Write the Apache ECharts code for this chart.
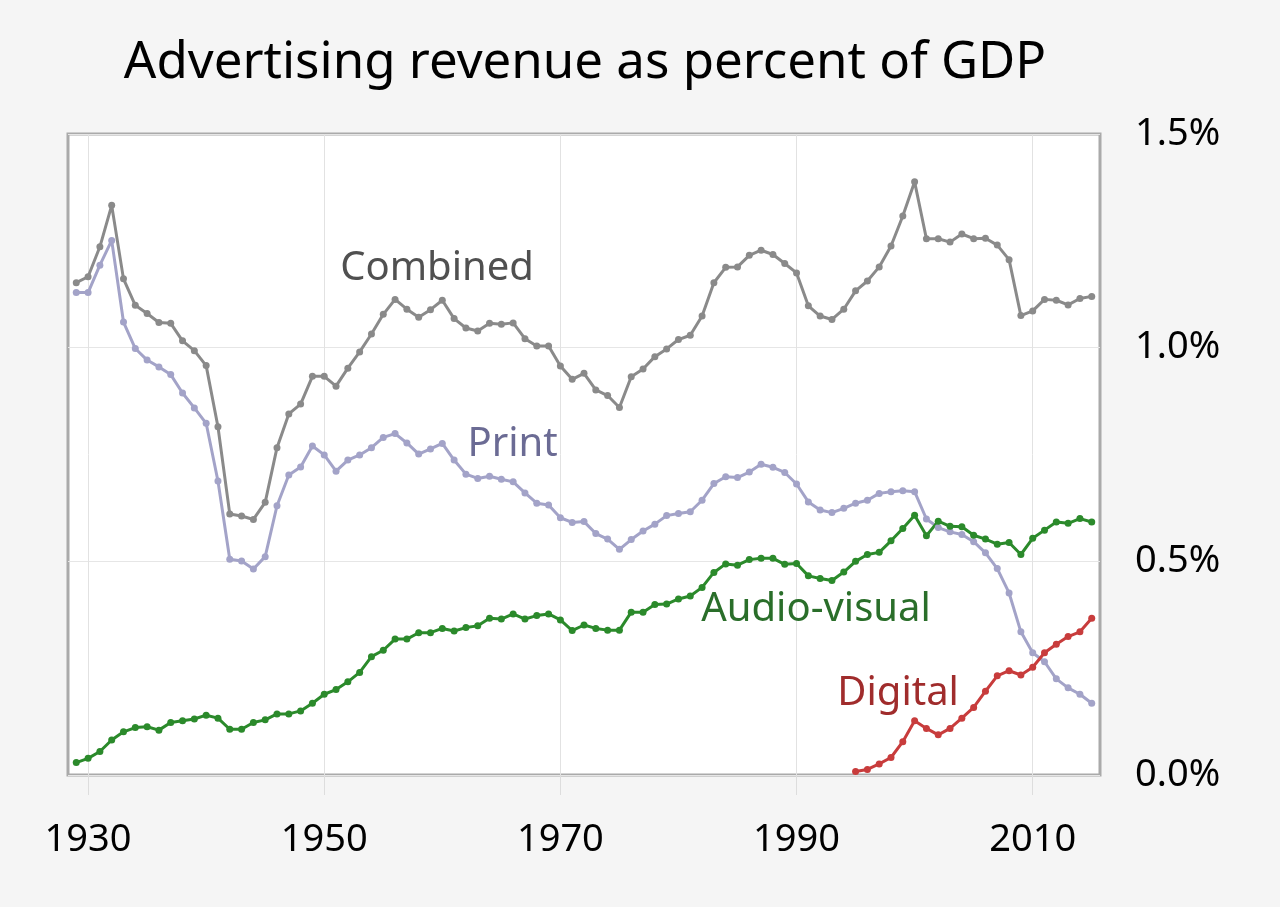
<!DOCTYPE html>
<html lang="en">
<head>
  <meta charset="UTF-8">
  <title>Advertising revenue as percent of GDP</title>
  <script src="https://cdn.jsdelivr.net/npm/echarts@6/dist/echarts.min.js"></script>
  <style>
    html, body {
      margin: 0;
      background-color: #f5f5f5;
    }
    #main {
      width: 1280px;
      height: 907px;
    }
  </style>
</head>
<body>
  <div id="main"></div>

  <script>
    // years 1929 - 2015
    const firstYear = 1929;
    const combined = [
      1.152, 1.166, 1.236, 1.333, 1.161, 1.099, 1.080, 1.059, 1.057, 1.016,
      0.993, 0.958, 0.815, 0.611, 0.606, 0.598, 0.638, 0.766, 0.845, 0.868,
      0.933, 0.933, 0.910, 0.952, 0.990, 1.032, 1.078, 1.113, 1.090, 1.071,
      1.089, 1.111, 1.068, 1.046, 1.039, 1.057, 1.055, 1.058, 1.021, 1.004,
      1.004, 0.957, 0.926, 0.940, 0.901, 0.888, 0.860, 0.932, 0.950, 0.979,
      0.997, 1.019, 1.029, 1.074, 1.152, 1.188, 1.189, 1.216, 1.228, 1.218,
      1.197, 1.175, 1.098, 1.074, 1.066, 1.090, 1.133, 1.156, 1.189, 1.238,
      1.308, 1.388, 1.255, 1.255, 1.247, 1.266, 1.255, 1.256, 1.240, 1.206,
      1.075, 1.086, 1.113, 1.111, 1.100, 1.115, 1.120
    ];
    const print = [
      1.129, 1.129, 1.193, 1.251, 1.060, 0.998, 0.971, 0.955, 0.937, 0.894,
      0.859, 0.823, 0.688, 0.505, 0.501, 0.482, 0.511, 0.630, 0.702, 0.721,
      0.770, 0.749, 0.711, 0.737, 0.749, 0.766, 0.790, 0.799, 0.777, 0.751,
      0.763, 0.776, 0.737, 0.704, 0.694, 0.699, 0.692, 0.686, 0.660, 0.636,
      0.632, 0.602, 0.591, 0.593, 0.565, 0.552, 0.528, 0.551, 0.571, 0.587,
      0.607, 0.612, 0.616, 0.643, 0.682, 0.698, 0.696, 0.709, 0.727, 0.720,
      0.708, 0.681, 0.639, 0.620, 0.614, 0.624, 0.636, 0.643, 0.659, 0.663,
      0.665, 0.663, 0.599, 0.579, 0.569, 0.563, 0.546, 0.520, 0.483, 0.426,
      0.335, 0.286, 0.265, 0.225, 0.204, 0.189, 0.168
    ];
    const audioVisual = [
      0.029, 0.039, 0.055, 0.082, 0.101, 0.111, 0.113, 0.105, 0.123, 0.127,
      0.131, 0.140, 0.133, 0.107, 0.107, 0.123, 0.129, 0.143, 0.143, 0.150,
      0.168, 0.189, 0.200, 0.218, 0.240, 0.277, 0.292, 0.318, 0.318, 0.333,
      0.333, 0.343, 0.337, 0.345, 0.349, 0.367, 0.365, 0.377, 0.365, 0.373,
      0.377, 0.363, 0.338, 0.351, 0.343, 0.339, 0.339, 0.381, 0.381, 0.399,
      0.400, 0.412, 0.419, 0.439, 0.474, 0.494, 0.491, 0.504, 0.507, 0.507,
      0.493, 0.495, 0.466, 0.460, 0.455, 0.475, 0.500, 0.516, 0.521, 0.548,
      0.577, 0.608, 0.560, 0.594, 0.582, 0.581, 0.561, 0.552, 0.540, 0.544,
      0.516, 0.554, 0.573, 0.592, 0.589, 0.600, 0.592
    ];
    // digital starts in 1995
    const digitalStart = 1995;
    const digital = [
      0.008, 0.013, 0.026, 0.041, 0.078, 0.127, 0.109, 0.094, 0.109, 0.133,
      0.158, 0.196, 0.232, 0.244, 0.234, 0.252, 0.286, 0.306, 0.324, 0.335,
      0.367
    ];
    const xTicks = [1930, 1950, 1970, 1990, 2010];

    const font = 'Noto Sans';

    function pairs(start, values) {
      return values.map((v, i) => [start + i, v]);
    }

    // inline series name, placed in data space
    function nameLabel(text, x, y, color) {
      return {
        silent: true,
        symbol: 'rect',
        symbolSize: 1,
        itemStyle: { color: 'rgba(0,0,0,0)' },
        data: [{ coord: [x, y] }],
        label: {
          show: true,
          position: 'inside',
          formatter: text,
          color: color,
          fontFamily: font,
          fontSize: 40
        }
      };
    }

    function lineSeries(name, start, values, color, lx, ly, labelColor) {
      return {
        name: name,
        type: 'line',
        data: pairs(start, values),
        symbol: 'circle',
        symbolSize: 7,
        lineStyle: { width: 3, color: color },
        itemStyle: { color: color },
        emphasis: { disabled: true },
        markPoint: nameLabel(name, lx, ly, labelColor),
        z: 3
      };
    }

    var myChart = echarts.init(document.getElementById('main'));

    var option = {
      backgroundColor: '#f5f5f5',
      animation: false,
      title: {
        text: 'Advertising revenue as percent of GDP',
        left: 580,
        textAlign: 'center',
        top: 33,
        textStyle: {
          fontFamily: font,
          fontSize: 51,
          fontWeight: 'normal',
          color: '#000'
        }
      },
      grid: {
        left: 68,
        right: 180,
        top: 134,
        bottom: 132,
        show: true,
        backgroundColor: '#ffffff',
        borderColor: '#aaaaaa',
        borderWidth: 3
      },
      xAxis: {
        type: 'value',
        min: 1928.3,
        max: 2015.7,
        axisLine: { show: false },
        axisTick: {
          show: true,
          customValues: xTicks,
          length: 20,
          lineStyle: { color: '#dddddd', width: 1 }
        },
        axisLabel: {
          customValues: xTicks,
          margin: 46,
          fontFamily: font,
          fontSize: 38,
          color: '#000',
          formatter: v => String(v)
        },
        splitLine: { show: true, lineStyle: { color: '#e2e2e2', width: 1 } }
      },
      yAxis: {
        type: 'value',
        position: 'right',
        min: 0,
        max: 1.5,
        interval: 0.5,
        axisLine: { show: false },
        axisTick: { show: false },
        axisLabel: {
          margin: 35,
          fontFamily: font,
          fontSize: 38,
          color: '#000',
          formatter: v => v.toFixed(1) + '%'
        },
        splitLine: { show: true, lineStyle: { color: '#e6e6e6', width: 1 } }
      },
      series: [
        lineSeries('Combined', firstYear, combined, '#8a8a8a', 1959.55, 1.186, '#505050'),
        lineSeries('Print', firstYear, print, '#a3a3c8', 1965.95, 0.774, '#6b6b94'),
        lineSeries('Audio-visual', firstYear, audioVisual, '#2b8a2b', 1991.65, 0.386, '#2a6e2a'),
        lineSeries('Digital', digitalStart, digital, '#c83c3c', 1998.6, 0.190, '#a02c2c')
      ]
    };

    myChart.setOption(option);
  </script>
</body>
</html>
